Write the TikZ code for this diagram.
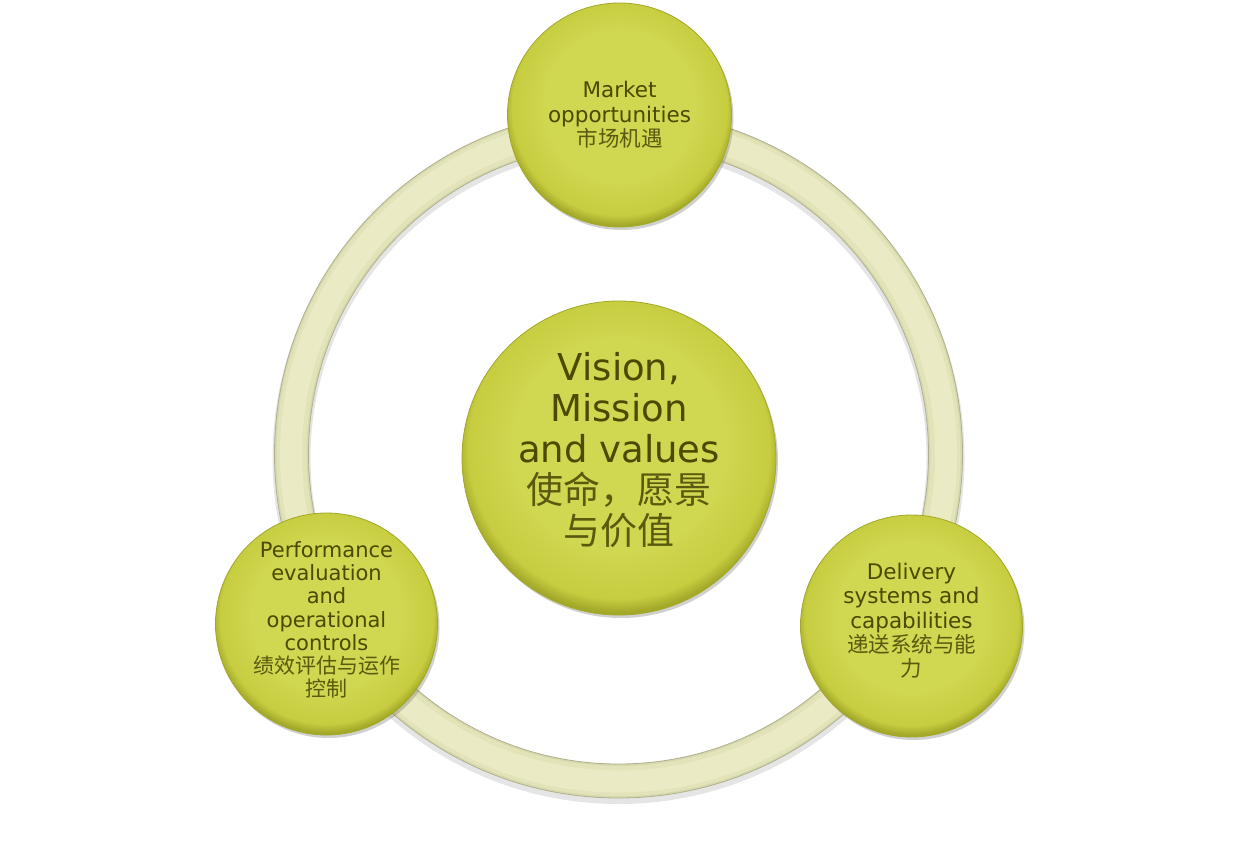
\documentclass[tikz,border=0pt]{standalone}
\usepackage{fontspec}
\setmainfont{DejaVu Sans}
\newfontfamily\cjk{Noto Sans CJK SC}
\usetikzlibrary{shadows}
\definecolor{bubA}{HTML}{D0D750}
\definecolor{bubB}{HTML}{C6CD40}
\definecolor{bubC}{HTML}{A2A828}
\definecolor{ringA}{HTML}{D8D8AE}
\definecolor{ringB}{HTML}{E2E3B8}
\definecolor{ringC}{HTML}{EAEBC4}
\definecolor{ringEdge}{HTML}{B0B08E}
\definecolor{txtc}{HTML}{4A4A00}
\definecolor{cjkc}{HTML}{5A5A0E}
\pgfdeclareradialshading{bubshade}{\pgfpoint{0bp}{3bp}}{%
  color(0bp)=(bubA); color(17bp)=(bubA); color(24bp)=(bubB); color(26bp)=(bubC); color(50bp)=(bubC)}
\tikzset{
  bub/.style={circle, draw=bubC, line width=0.8pt, shading=bubshade,
    drop shadow={shadow xshift=2pt, shadow yshift=-3pt, opacity=0.3, fill=black!60}},
  txt/.style={align=center, text=txtc, inner sep=0pt},
  smalltxt/.style={txt, font=\fontsize{21.5}{24.3}\selectfont},
  cj/.style={text=cjkc}
}
\newcommand{\zh}[1]{{\cjk\color{cjkc}#1}}
\begin{document}
\begin{tikzpicture}[x=1pt,y=-1pt]
\useasboundingbox (0,0) rectangle (1238,845);
\fill[white] (0,0) rectangle (1238,845);
% ring
\coordinate (rc) at (618.5,454);
\draw[black, opacity=0.10, line width=38pt] ([yshift=-4pt]rc) circle (327);
\draw[ringA, line width=34pt] (rc) circle (327);
\draw[ringB, line width=30pt] (rc) circle (327);
\draw[ringC, line width=22pt] (rc) circle (327.5);
\draw[ringEdge, line width=0.8pt] (rc) circle (344);
\draw[ringEdge, line width=0.8pt] (rc) circle (310);
% bubbles
\node[bub, minimum size=224pt] (market) at (619.5,115) {};
\node[bub, minimum size=314pt] (vision) at (619,458) {};
\node[bub, minimum size=222pt] (perf) at (326.5,624) {};
\node[bub, minimum size=222pt] (deliv) at (911.5,626) {};
% texts
\node[smalltxt] (markettxt) at (619.5,115)
  {Market\\opportunities\\\zh{市场机遇}};
\node[txt, font=\fontsize{37}{41}\selectfont] (visiontxt) at (619,450)
  {Vision,\\Mission\\and values\\\zh{使命，愿景}\\\zh{与价值}};
\node[smalltxt, font=\fontsize{21}{23.2}\selectfont] (perftxt) at (326.5,620)
  {Performance\\evaluation\\and\\operational\\controls\\\zh{绩效评估与运作}\\\zh{控制}};
\node[smalltxt] (delivtxt) at (911.5,621)
  {Delivery\\systems and\\capabilities\\\zh{递送系统与能}\\\zh{力}};
\end{tikzpicture}
\end{document}
